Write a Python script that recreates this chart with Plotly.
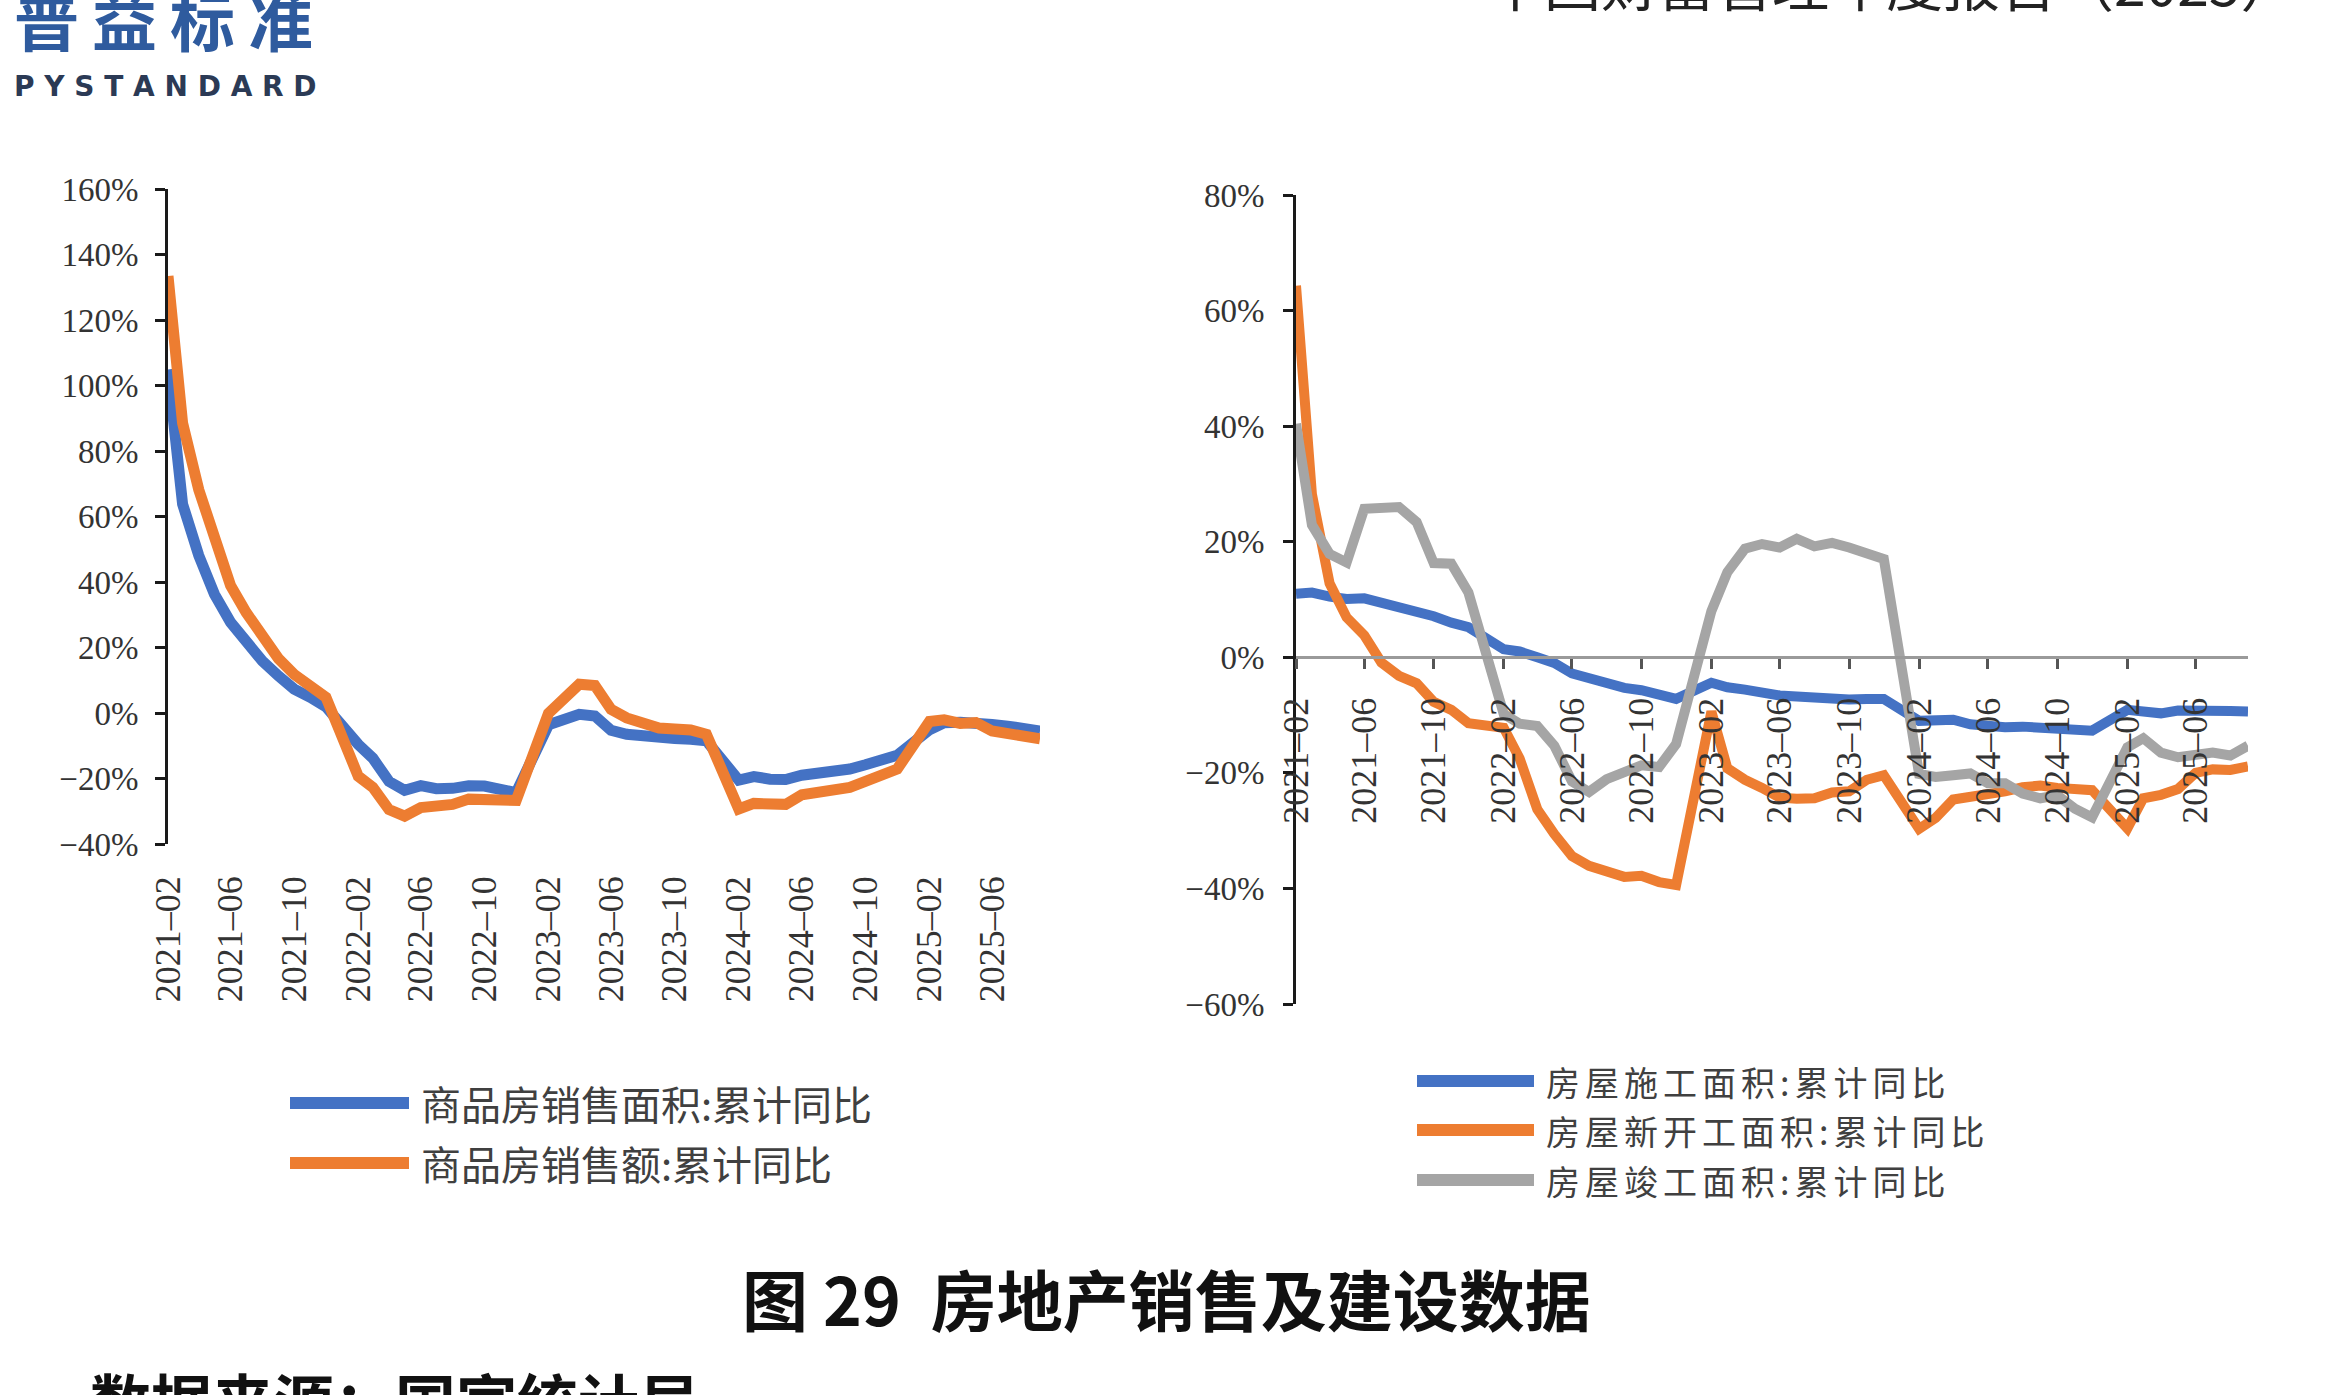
import plotly.graph_objects as go

W, H = 2335, 1395

# ---------------- data ----------------
# monthly cumulative data (January is not published separately; Jan-Feb combined)
months = [f"{y}-{m:02d}-01" for y in range(2021, 2026) for m in range(2, 13)
          if not (y == 2025 and m > 9)]

tick_labels_start = "2021-02-01"

sales_area = [104.9, 63.8, 48.1, 36.3, 27.7, 21.5, 15.9, 11.3, 7.3, 4.8, 1.9,
              -9.6, -13.8, -20.9, -23.6, -22.2, -23.1, -23.0, -22.2, -22.3, -23.3, -24.3,
              -3.6, -1.8, -0.4, -0.9, -5.3, -6.5, -7.1, -7.5, -7.8, -8.0, -8.5,
              -20.5, -19.4, -20.2, -20.3, -19.0, -18.6, -18.0, -17.1, -15.8, -14.3, -12.9,
              -5.1, -3.0, -2.8, -2.9, -3.5, -4.0, -4.7, -5.5]

sales_value = [133.4, 88.5, 68.2, 52.4, 38.9, 30.7, 22.9, 16.6, 11.8, 8.0, 4.8,
               -19.3, -22.7, -29.5, -31.5, -28.9, -28.8, -27.9, -26.3, -26.1, -26.6, -26.7,
               -0.1, 4.1, 8.8, 8.4, 1.1, -1.5, -3.2, -4.6, -4.9, -5.2, -6.5,
               -29.3, -27.6, -28.1, -27.9, -25.0, -24.3, -23.6, -22.7, -20.9, -19.2, -17.1,
               -2.6, -2.1, -3.2, -2.9, -5.5, -6.5, -7.3, -7.9]

under_construction = [11.0, 11.2, 10.5, 10.1, 10.2, 9.5, 8.9, 7.9, 7.1, 6.0, 5.2,
                      1.4, 1.0, 0.0, -1.0, -2.8, -3.7, -4.5, -5.3, -5.7, -6.5, -7.2,
                      -4.4, -5.2, -5.6, -6.2, -6.6, -6.8, -7.1, -7.1, -7.3, -7.2, -7.2,
                      -11.0, -11.1, -10.8, -11.6, -12.0, -12.1, -12.0, -12.2, -12.4, -12.7, -12.7,
                      -9.1, -9.5, -9.7, -9.2, -9.1, -9.2, -9.3, -9.4]

new_starts = [64.3, 28.2, 12.8, 6.9, 3.8, -0.9, -3.2, -4.5, -7.7, -9.1, -11.4,
              -12.2, -17.5, -26.3, -30.6, -34.4, -36.1, -37.2, -38.0, -37.8, -38.9, -39.4,
              -9.4, -19.2, -21.2, -22.6, -24.3, -24.5, -24.4, -23.4, -23.2, -21.2, -20.4,
              -29.7, -27.8, -24.6, -24.2, -23.7, -23.2, -22.5, -22.2, -22.6, -23.0, -23.0,
              -29.6, -24.4, -23.8, -22.8, -20.0, -19.4, -19.5, -18.9]

completed = [40.4, 22.9, 17.9, 16.4, 25.7, 25.7, 26.0, 23.4, 16.3, 16.2, 11.2,
             -9.8, -11.5, -11.9, -15.3, -21.5, -23.3, -21.1, -19.9, -18.7, -19.0, -15.0,
             8.0, 14.7, 18.8, 19.6, 19.0, 20.5, 19.2, 19.8, 19.0, 17.9, 17.0,
             -20.2, -20.7, -20.4, -20.1, -21.8, -21.8, -23.6, -24.4, -23.9, -26.2, -27.7,
             -15.6, -14.0, -16.5, -17.3, -16.8, -16.5, -17.0, -15.3]

left_names = ["商品房销售面积:累计同比", "商品房销售额:累计同比"]
right_names = ["房屋施工面积:累计同比", "房屋新开工面积:累计同比", "房屋竣工面积:累计同比"]

BLUE, ORANGE, GRAY = "#4472C4", "#ED7D31", "#A5A5A5"

# ---------------- helpers ----------------
def fx(p):
    return p / W

def fy(p):
    return 1 - p / H

SERIF = "Liberation Serif, Times New Roman, serif"
CJK = "Noto Sans CJK SC, sans-serif"
TXT = "#333333"

fig = go.Figure()

# left chart
fig.add_trace(go.Scatter(x=months, y=sales_area, name=left_names[0], mode="lines",
                         line=dict(color=BLUE, width=11), xaxis="x", yaxis="y",
                         showlegend=False))
fig.add_trace(go.Scatter(x=months, y=sales_value, name=left_names[1], mode="lines",
                         line=dict(color=ORANGE, width=11), xaxis="x", yaxis="y",
                         showlegend=False))
# right chart
for vals, nm, col in zip([under_construction, new_starts, completed], right_names,
                         [BLUE, ORANGE, GRAY]):
    fig.add_trace(go.Scatter(x=months, y=vals, name=nm, mode="lines",
                             line=dict(color=col, width=10), xaxis="x2", yaxis="y2",
                             showlegend=False))

x_range = ["2021-02-01", "2025-09-01"]

# left plot geometry (pixels)
L_x0, L_x1 = 168, 1040
L_ytop, L_ybot = 189, 844
L_rng = [-40, 160]
# right plot geometry
R_x0, R_x1 = 1296, 2248
R_ytop, R_ybot = 195, 1004
R_rng = [-60, 80]

L_dom = [fy(L_ybot), fy(L_ytop)]
R_dom = [fy(R_ybot), fy(R_ytop)]
L_zero = L_dom[0] + (0 - L_rng[0]) / (L_rng[1] - L_rng[0]) * (L_dom[1] - L_dom[0])
R_zero = R_dom[0] + (0 - R_rng[0]) / (R_rng[1] - R_rng[0]) * (R_dom[1] - R_dom[0])

ytickfont = dict(family=SERIF, size=33, color=TXT)
xtickfont = dict(family=SERIF, size=36, color=TXT)

xcommon = dict(type="date", range=x_range, tick0=tick_labels_start, dtick="M4",
               tickformat="%Y\u2013%m", showgrid=False, zeroline=False, tickangle=-90,
               fixedrange=True, automargin=False)

fig.update_layout(
    width=W, height=H,
    margin=dict(l=0, r=0, t=0, b=0, pad=0, autoexpand=False),
    paper_bgcolor="white", plot_bgcolor="rgba(0,0,0,0)",
    xaxis=dict(**xcommon, domain=[fx(L_x0), fx(L_x1)], anchor="y",
               showline=False, ticks="", ticklabelstandoff=24, tickfont=xtickfont),
    xaxis3=dict(**xcommon, domain=[fx(L_x0), fx(L_x1)], overlaying="x",
                anchor="free", position=L_zero, showline=True, linecolor="#c9c9c9",
                linewidth=2, ticks="outside", ticklen=9, tickwidth=2,
                tickcolor="#c9c9c9", showticklabels=False),
    yaxis=dict(domain=L_dom, range=L_rng, dtick=20, ticksuffix="%", anchor="x",
               showline=True, linecolor="#1a1a1a", linewidth=3, ticks="outside",
               ticklen=10, tickwidth=2.5, tickcolor="#1a1a1a", showgrid=False,
               zeroline=False, tickfont=ytickfont, ticklabelstandoff=10,
               fixedrange=True, automargin=False),
    xaxis2=dict(**xcommon, domain=[fx(R_x0), fx(R_x1)], anchor="free",
                position=R_zero, showline=True, linecolor="#9a9a9a", linewidth=3,
                ticks="outside", ticklen=10, tickwidth=2.5, tickcolor="#555555",
                ticklabelstandoff=14, tickfont=xtickfont),
    yaxis2=dict(domain=R_dom, range=R_rng, dtick=20, ticksuffix="%", anchor="x2",
                showline=True, linecolor="#1a1a1a", linewidth=3, ticks="outside",
                ticklen=10, tickwidth=2.5, tickcolor="#1a1a1a", showgrid=False,
                zeroline=False, tickfont=ytickfont, ticklabelstandoff=12,
                fixedrange=True, automargin=False),
)

shapes = []
annotations = []

def legend_item(x0, x1, ycen, color, text, size, spacing):
    shapes.append(dict(type="line", xref="paper", yref="paper",
                       x0=fx(x0), x1=fx(x1), y0=fy(ycen), y1=fy(ycen),
                       line=dict(color=color, width=12)))
    label = text if spacing == 0 else \
        f"<span style='letter-spacing:{spacing}px'>{text}</span>"
    annotations.append(dict(xref="paper", yref="paper", x=fx(x1 + 10), y=fy(ycen),
                            xanchor="left", yanchor="middle", showarrow=False,
                            text=label,
                            font=dict(family=CJK, size=size, color="#404040")))

# left legend
for ycen, col, nm in zip([1103, 1163], [BLUE, ORANGE], left_names):
    legend_item(290, 409, ycen, col, nm, 40, 0)

# right legend (tight rows)
for ycen, col, nm in zip([1081, 1130, 1180], [BLUE, ORANGE, GRAY], right_names):
    legend_item(1417, 1534, ycen, col, nm, 34, 5)

# figure caption
annotations.append(dict(xref="paper", yref="paper", x=fx(1166), y=fy(1297),
                        xanchor="center", yanchor="middle", showarrow=False,
                        text="<b>图 29  房地产销售及建设数据</b>",
                        font=dict(family=CJK, size=66, color="#111111")))

# logo
annotations.append(dict(xref="paper", yref="paper", x=fx(12), y=fy(67),
                        xanchor="left", yanchor="bottom", showarrow=False,
                        text="<b>普\u2009益\u2009标\u2009准</b>",
                        font=dict(family=CJK, size=65, color="#2f5b9e")))
annotations.append(dict(xref="paper", yref="paper", x=fx(12), y=fy(68),
                        xanchor="left", yanchor="top", showarrow=False,
                        text="<b>P Y S T A N D A R D</b>",
                        font=dict(family="DejaVu Sans, sans-serif", size=28,
                                  color="#2b3a55")))

# page header (cut at the top edge)
annotations.append(dict(xref="paper", yref="paper", x=fx(2300), y=fy(24),
                        xanchor="right", yanchor="bottom", showarrow=False,
                        text="中国财富管理年度报告（2025）",
                        font=dict(family=CJK, size=57, color="#222222")))

# data source (cut at the bottom edge)
annotations.append(dict(xref="paper", yref="paper", x=fx(88), y=fy(1353),
                        xanchor="left", yanchor="top", showarrow=False,
                        text="<b>数据来源：国家统计局</b>",
                        font=dict(family=CJK, size=61, color="#111111")))

fig.update_layout(shapes=shapes, annotations=annotations)

fig.write_html("out.html")
